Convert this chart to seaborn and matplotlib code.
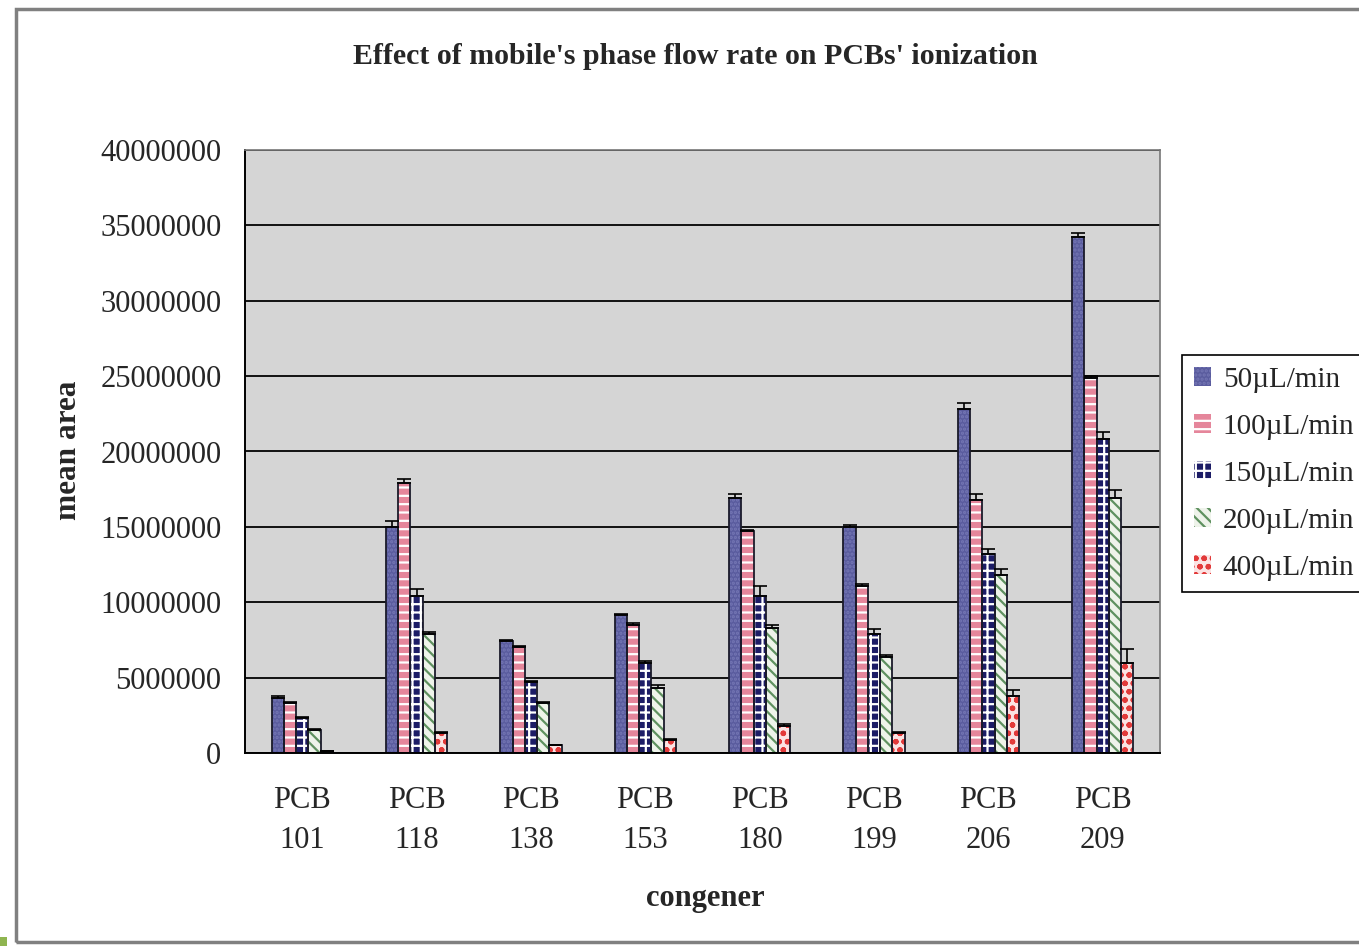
import pandas as pd
import matplotlib.pyplot as plt
import seaborn as sns
from matplotlib.patches import Rectangle, Patch
from matplotlib.ticker import FuncFormatter

sns.set_theme(style="white")
plt.rcParams['font.family'] = ['Liberation Serif', 'DejaVu Serif']
plt.rcParams['hatch.linewidth'] = 1.6

# values, in millions of counts
congeners = ["PCB\n101", "PCB\n118", "PCB\n138", "PCB\n153", "PCB\n180", "PCB\n199", "PCB\n206", "PCB\n209"]
flow_rates = ["50µL/min", "100µL/min", "150µL/min", "200µL/min", "400µL/min"]

area_50 = [3.65, 15.0, 7.4, 9.15, 16.9, 15.0, 22.8, 34.2]
area_100 = [3.3, 17.9, 7.0, 8.5, 14.7, 11.1, 16.8, 24.9]
area_150 = [2.3, 10.4, 4.7, 6.0, 10.4, 7.9, 13.2, 20.8]
area_200 = [1.5, 7.9, 3.3, 4.3, 8.3, 6.4, 11.8, 16.9]
area_400 = [0.1, 1.3, 0.5, 0.85, 1.8, 1.3, 3.8, 6.0]

err_50 = [0.1, 0.4, 0.1, 0.1, 0.3, 0.1, 0.4, 0.3]
err_100 = [0.1, 0.3, 0.1, 0.1, 0.1, 0.1, 0.4, 0.1]
err_150 = [0.1, 0.45, 0.1, 0.1, 0.7, 0.3, 0.35, 0.5]
err_200 = [0.1, 0.1, 0.1, 0.2, 0.2, 0.1, 0.4, 0.55]
err_400 = [0.05, 0.1, 0.05, 0.05, 0.1, 0.1, 0.4, 0.9]

all_areas = [area_50, area_100, area_150, area_200, area_400]
all_errs = [err_50, err_100, err_150, err_200, err_400]

rows = []
for rate, vals in zip(flow_rates, all_areas):
    for c, v in zip(congeners, vals):
        rows.append({'congener': c, 'flow': rate, 'area': v * 1e6})
df = pd.DataFrame(rows)

# face colour, hatch, hatch colour per series (Excel-like pattern fills)
faces = ['#5a5c9e', '#e5869b', '#1c1c66', '#eef3ea', '#fbe3e3']
hatches = ['....', '--', '++', '\\\\\\', 'oo']
hatch_cols = ['#7476b4', '#ffffff', '#ffffff', '#5f9160', '#e23a3a']

fig = plt.figure(figsize=(13.59, 9.46), dpi=100)
ax = fig.add_axes([245 / 1359, 1 - 753 / 946, (1160 - 245) / 1359, (753 - 150) / 946])

sns.barplot(data=df, x='congener', y='area', hue='flow', order=congeners,
            hue_order=flow_rates, palette=faces, width=0.535, errorbar=None,
            legend=False, ax=ax)

bar_conts = list(ax.containers)
for i, cont in enumerate(bar_conts):
    xs, tops = [], []
    for p in cont.patches:
        p.set_facecolor(faces[i])
        p.set_edgecolor(hatch_cols[i])
        p.set_hatch(hatches[i])
        p.set_linewidth(0)
        ax.add_patch(Rectangle(p.get_xy(), p.get_width(), p.get_height(),
                               fill=False, edgecolor='#1a1a2a', lw=1.3, zorder=p.get_zorder() + 0.1))
        xs.append(p.get_x() + p.get_width() / 2)
        tops.append(p.get_height())
    errs = [e * 1e6 for e in all_errs[i]]
    ax.errorbar(xs, tops, yerr=[[0] * len(errs), errs], fmt='none', ecolor='black',
                elinewidth=1.2, capsize=5, capthick=1.2, zorder=5)

ax.set_facecolor('#d5d5d5')
ax.set_axisbelow(True)
ax.yaxis.grid(True, color='#111111', linewidth=1.4)
ax.set_ylim(0, 40e6)
ax.set_xlim(-0.5, 7.5)
ax.set_yticks(range(0, 40000001, 5000000))
ax.yaxis.set_major_formatter(FuncFormatter(lambda v, _: f"{int(v)}"))
ax.tick_params(axis='y', direction='out', length=8, width=1.2, color='black', labelsize=22, pad=9)
ax.tick_params(axis='x', which='major', length=0, labelsize=22, pad=24)
ax.set_xticks([x - 0.5 for x in range(9)], minor=True)
ax.tick_params(axis='x', which='minor', direction='out', length=8, width=1.2, color='black')
for lab in ax.get_xticklabels():
    lab.set_linespacing(1.5)

for side in ['left', 'bottom']:
    ax.spines[side].set_color('black')
    ax.spines[side].set_linewidth(1.4)
for side in ['top', 'right']:
    ax.spines[side].set_color('#777777')
    ax.spines[side].set_linewidth(1.2)

ax.set_xlabel('')
ax.set_ylabel('')
fig.text(68 / 1359, 1 - 450 / 946, 'mean area', rotation=90, ha='center', va='center',
         fontsize=22.5, fontweight='bold')
fig.text(705 / 1359, 1 - 898 / 946, 'congener', ha='center', va='center',
         fontsize=22, fontweight='bold')
fig.text(695 / 1359, 1 - 57 / 946, "Effect of mobile's phase flow rate on PCBs' ionization",
         ha='center', va='center', fontsize=21.5, fontweight='bold')

handles = [Patch(facecolor=faces[i], edgecolor=hatch_cols[i], hatch=hatches[i], lw=0)
           for i in range(len(flow_rates))]
leg = fig.legend(handles, flow_rates, loc='upper left',
                 bbox_to_anchor=(1182 / 1359, 1 - 355 / 946), fontsize=21,
                 handlelength=0.6, handleheight=0.6, handletextpad=0.4,
                 labelspacing=0.72, borderpad=0.4, fancybox=False, framealpha=1,
                 edgecolor='black', borderaxespad=0)
leg.get_frame().set_linewidth(1.2)

# outer chart border (right edge runs off the canvas) and the small green corner mark
fig.patches.append(Rectangle((16 / 1359, 4 / 946), 1.05, 1 - 13 / 946,
                             transform=fig.transFigure, fill=False, edgecolor='#808080', lw=2.5))
fig.patches.append(Rectangle((0, 0), 7 / 1359, 9 / 946, transform=fig.transFigure,
                             facecolor='#8fb550', edgecolor='none'))

fig.savefig('out.png', dpi=100)
